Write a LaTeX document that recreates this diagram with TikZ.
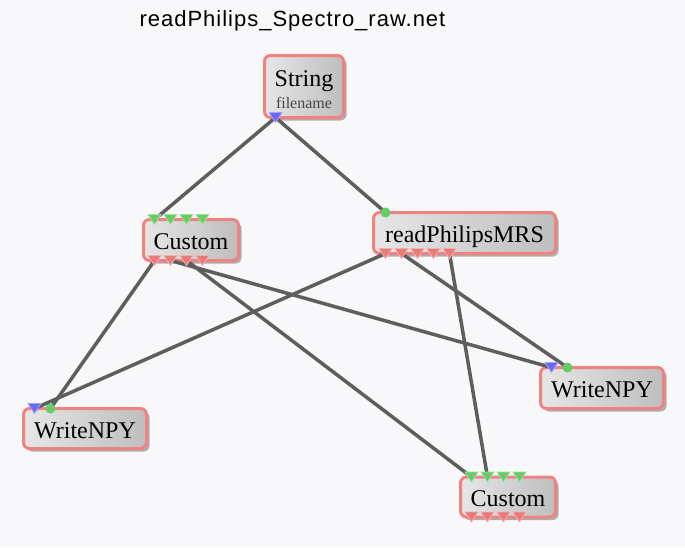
\documentclass[tikz,border=0pt]{standalone}
\usepackage{fontspec}
\setmainfont{Liberation Serif}
\newfontfamily\titlefont[LetterSpace=4.5]{Liberation Sans}
\usetikzlibrary{calc, shadows}

\definecolor{bgcol}{RGB}{248,248,250}
\definecolor{boxline}{RGB}{240,130,130}
\definecolor{boxlight}{RGB}{230,230,230}
\definecolor{boxdark}{RGB}{190,190,190}
\definecolor{wirecol}{RGB}{94,94,94}
\definecolor{portgreen}{RGB}{100,205,100}
\definecolor{portred}{RGB}{232,122,122}
\definecolor{portblue}{RGB}{105,105,245}
\definecolor{fncol}{RGB}{70,70,70}

\begin{document}
\begin{tikzpicture}[
    x=1pt, y=-1pt,
    every node/.style={font=\fontsize{24}{26}\selectfont},
    netbox/.style={draw=boxline, line width=3pt, rounded corners=6pt, inner sep=0pt, outer sep=0pt,
        minimum height=41pt, text height=19pt, text depth=0pt, left color=boxlight, right color=boxdark,
        drop shadow={shadow xshift=3pt, shadow yshift=-3pt, opacity=0.3, fill=black}},
    wire/.style={draw=wirecol, line width=3.5pt},
    inport/.style={fill=portgreen, draw=portgreen!60!white, line width=0.8pt},
    outport/.style={fill=portred, draw=portred!60!white, line width=0.8pt},
    fileport/.style={fill=portblue, draw=portblue!60!white, line width=0.8pt}
]

% Hintergrund
\fill[bgcol] (0,0) rectangle (685,547);

% Titel
\node[anchor=base] (title) at (292.5, 26) {\titlefont\fontsize{22}{24}\selectfont readPhilips\_Spectro\_raw.net};

% Knoten
\node[netbox, align=center, minimum width=79pt, minimum height=62pt, text height=43pt] (str) at (304, 86.5)
  {String\\[-4pt]{\fontsize{16}{16}\selectfont\color{fncol}filename}};
\node[netbox, minimum width=95pt] (c1) at (191, 240) {Custom};
\node[netbox, minimum width=182pt] (rp) at (464.5, 233) {readPhilipsMRS};
\node[netbox, minimum width=123pt] (w2) at (602, 388) {WriteNPY};
\node[netbox, minimum width=123pt, minimum height=40pt] (w1) at (85, 428.5) {WriteNPY};
\node[netbox, minimum width=95pt, minimum height=40pt] (c2) at (508, 497) {Custom};

% Anschluesse
\coordinate (strout) at ($(str.south west)+(11,0)$);
\coordinate (rpin) at ($(rp.north west)+(12,0)$);
\coordinate (w1a) at ($(w1.north west)+(11,0)$);
\coordinate (w1b) at ($(w1.north west)+(27,0)$);
\coordinate (w2a) at ($(w2.north west)+(11,0)$);
\coordinate (w2b) at ($(w2.north west)+(27,0)$);
\foreach \i in {1,...,4} {
  \coordinate (c1in\i) at ($(c1.north west)+({11+16*(\i-1)},0)$);
  \coordinate (c1out\i) at ($(c1.south west)+({11+16*(\i-1)},0)$);
  \coordinate (c2in\i) at ($(c2.north west)+({11+16*(\i-1)},0)$);
  \coordinate (c2out\i) at ($(c2.south west)+({11+16*(\i-1)},0)$);
}
\foreach \i in {1,...,5}
  \coordinate (rpout\i) at ($(rp.south west)+({12+16*(\i-1)},0)$);

% Verbindungen
\draw[wire] (strout) -- (c1in1);
\draw[wire] (strout) -- (rpin);
\draw[wire] (c1out1) -- (w1b);
\draw[wire] (c1out2) -- (w2a);
\draw[wire] (c1out3) -- (c2in1);
\draw[wire] (rpout1) -- (w1a);
\draw[wire] (rpout2) -- (w2b);
\draw[wire] (rpout5) -- (c2in2);

% Dreiecke und Kreise
\foreach \p in {c1in1, c1in2, c1in3, c1in4, c2in1, c2in2, c2in3, c2in4}
  \filldraw[inport] ($(\p)+(-6.5,-5)$) -- ($(\p)+(6.5,-5)$) -- ($(\p)+(0,5)$) -- cycle;
\foreach \p in {c1out1, c1out2, c1out3, c1out4, c2out1, c2out2, c2out3, c2out4,
                rpout1, rpout2, rpout3, rpout4, rpout5}
  \filldraw[outport] ($(\p)+(-6.5,-5)$) -- ($(\p)+(6.5,-5)$) -- ($(\p)+(0,5)$) -- cycle;
\foreach \p in {strout, w1a, w2a}
  \filldraw[fileport] ($(\p)+(-6.5,-5)$) -- ($(\p)+(6.5,-5)$) -- ($(\p)+(0,5)$) -- cycle;
\foreach \p in {rpin, w1b, w2b}
  \fill[portgreen] (\p) circle (5);

\end{tikzpicture}
\end{document}
